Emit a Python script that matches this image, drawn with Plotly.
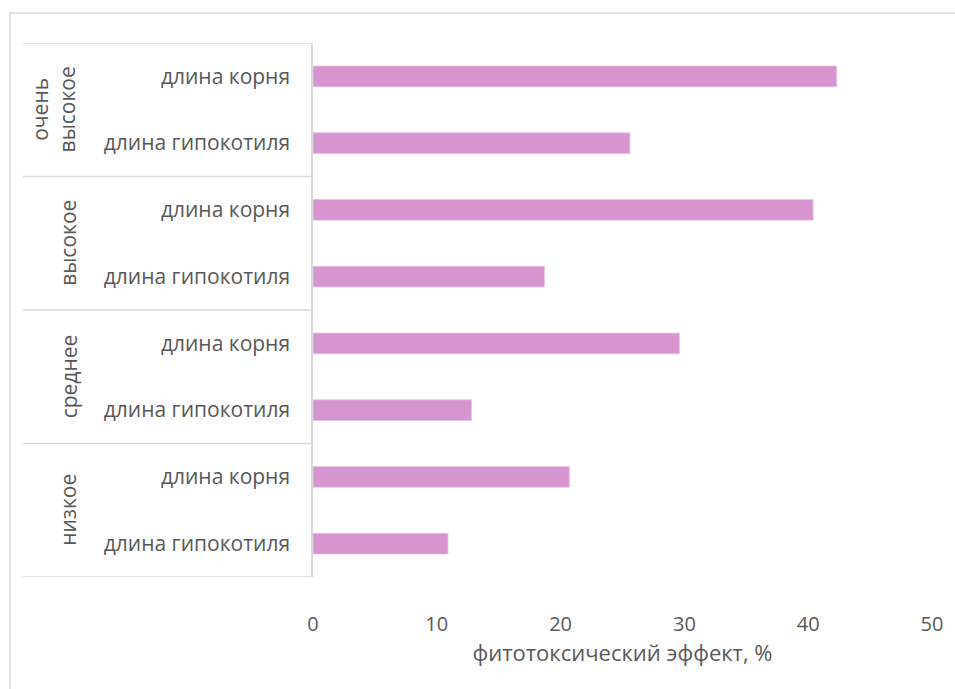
import plotly.graph_objects as go

# Phytotoxicity levels (bottom to top) and measured parameters
groups = ["низкое", "среднее", "высокое", "очень<br>высокое"]
params = ["длина гипокотиля", "длина корня"]

# Phytotoxic effect, % (per group: hypocotyl length, root length)
hypocotyl = [10.9, 12.8, 18.7, 25.6]
root = [20.7, 29.6, 40.4, 42.3]

x_ticks = [0, 10, 20, 30, 40, 50]

labels = []
values = []
for g, h, r in zip(groups, hypocotyl, root):
    labels += params
    values += [h, r]
positions = list(range(len(values)))

TEXT = "#595959"
LINE = "#D9D9D9"
FONT = "Open Sans"

fig = go.Figure(
    go.Bar(
        x=values,
        y=positions,
        orientation="h",
        width=0.31,
        marker=dict(color="#D695CE", line=dict(color="#E9C3E4", width=0.8)),
        hoverinfo="x",
    )
)

# Group labels, rotated, centred on each pair of bars
n_sub = len(params)
annotations = []
for i, g in enumerate(groups):
    mid = i * n_sub + (n_sub - 1) / 2
    two_lines = "<br>" in g
    annotations.append(
        dict(
            text=g,
            x=(52 - 313) / 623 if two_lines else (67 - 313) / 623,
            xref="paper",
            y=mid,
            yref="y",
            textangle=-90,
            showarrow=False,
            xanchor="center",
            yanchor="middle",
            font=dict(family=FONT, size=21, color=TEXT),
        )
    )

# Horizontal dividers between groups on the category axis
shapes = []
for k in range(len(groups) + 1):
    yb = k * n_sub - 0.5
    shapes.append(
        dict(
            type="line",
            xref="paper",
            yref="y",
            x0=(21 - 313) / 623,
            x1=0,
            y0=yb,
            y1=yb,
            line=dict(color=LINE, width=1.5),
        )
    )

# Chart outer border (runs past the right and bottom edges)
shapes.append(
    dict(
        type="rect",
        xref="paper",
        yref="paper",
        x0=(8 - 313) / 623,
        x1=(965 - 313) / 623,
        y0=-0.4,
        y1=1 + 30 / 534,
        line=dict(color=LINE, width=1.5),
        fillcolor="rgba(0,0,0,0)",
        layer="below",
    )
)

fig.update_layout(
    width=955,
    height=689,
    margin=dict(l=313, r=19, t=43, b=112),
    paper_bgcolor="white",
    plot_bgcolor="white",
    showlegend=False,
    font=dict(family=FONT, size=20, color=TEXT),
    annotations=annotations,
    shapes=shapes,
    xaxis=dict(
        range=[0, 50],
        tickvals=x_ticks,
        showgrid=False,
        zeroline=False,
        showline=False,
        ticks="",
        ticklabelstandoff=33,
        tickfont=dict(family=FONT, size=20, color=TEXT),
        title=dict(
            text="фитотоксический эффект, %",
            font=dict(family=FONT, size=22, color=TEXT),
            standoff=8,
        ),
        fixedrange=True,
    ),
    yaxis=dict(
        range=[-0.5, len(values) - 0.5],
        tickvals=positions,
        ticktext=labels,
        showgrid=False,
        zeroline=False,
        showline=True,
        linecolor=LINE,
        linewidth=1.5,
        ticks="",
        ticklabelstandoff=17,
        tickfont=dict(family=FONT, size=21, color=TEXT),
        fixedrange=True,
    ),
)

fig.write_html("out.html")
